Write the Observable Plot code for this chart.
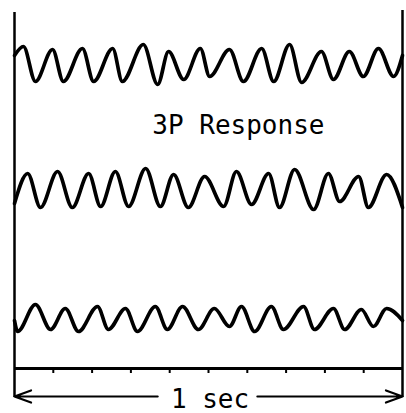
<!DOCTYPE html>
<html>
<head>
<meta charset="utf-8">
<script src="https://cdn.jsdelivr.net/npm/d3@7"></script>
<script src="https://cdn.jsdelivr.net/npm/@observablehq/plot@0.6"></script>
<style>
  html, body { margin: 0; padding: 0; background: #fff; }
  #chart svg { display: block; }
</style>
</head>
<body>
<div id="chart"></div>
<script>
// Time (s) and trace level (arbitrary chart units)
const timeTop  = [0, 0.023, 0.054, 0.098, 0.126, 0.175, 0.204, 0.253, 0.278, 0.332, 0.369, 0.397, 0.436, 0.479, 0.503, 0.554, 0.590, 0.637, 0.668, 0.709, 0.740, 0.791, 0.822, 0.863, 0.899, 0.938, 0.977, 1];
const levelTop = [358, 367, 332, 364, 332, 365, 332, 365, 332, 369, 329, 362, 334, 365, 337, 364, 332, 365, 332, 369, 331, 362, 334, 362, 337, 365, 337, 358];

const timeMid  = [0, 0.034, 0.067, 0.111, 0.149, 0.191, 0.222, 0.260, 0.294, 0.338, 0.376, 0.410, 0.448, 0.490, 0.539, 0.572, 0.611, 0.655, 0.683, 0.722, 0.771, 0.809, 0.838, 0.887, 0.912, 0.959, 1];
const levelMid = [210, 240, 206, 242, 206, 240, 207, 242, 207, 245, 207, 239, 206, 237, 207, 242, 209, 240, 206, 244, 204, 240, 212, 237, 206, 239, 206];

const timeBot  = [0, 0.008, 0.054, 0.093, 0.131, 0.165, 0.214, 0.242, 0.286, 0.317, 0.363, 0.394, 0.433, 0.474, 0.515, 0.554, 0.585, 0.619, 0.662, 0.693, 0.745, 0.773, 0.822, 0.851, 0.894, 0.925, 0.959, 1];
const levelBot = [93, 82, 109, 84, 105, 82, 107, 84, 105, 82, 107, 84, 107, 84, 105, 87, 107, 82, 107, 84, 107, 84, 105, 84, 104, 87, 105, 93];

const tickTimes = [0.1, 0.2, 0.3, 0.4, 0.5, 0.6, 0.7, 0.8, 0.9];
const frameTimes = [0, 1];
const frameTops = [401, 403];
const label = "3P Response";
const scaleLabel = "1 sec";

const traces = [
  {t: timeTop, v: levelTop},
  {t: timeMid, v: levelMid},
  {t: timeBot, v: levelBot}
].map((tr, k) => tr.t.map((t, i) => ({trace: k, t, v: tr.v[i]})));

const frame = frameTimes.map((t, i) => ({t, top: frameTops[i]}));
const baseLevel = 45, tickEnd = 40, arrowLevel = 17, frameBottom = 16;
const arrows = [
  {x1: 0.369, x2: 0, y: arrowLevel},
  {x1: 0.626, x2: 1, y: arrowLevel}
];

const chart = Plot.plot({
  width: 406,
  height: 413,
  marginLeft: 14,
  marginRight: 4,
  marginTop: 0,
  marginBottom: 0,
  x: {domain: [0, 1], axis: null},
  y: {domain: [0, 413], axis: null},
  style: {background: "#fff", fontFamily: "DejaVu Sans Mono"},
  marks: [
    Plot.ruleX(frame, {x: "t", y1: frameBottom, y2: "top", stroke: "#000", strokeWidth: 2.5}),
    Plot.ruleY([baseLevel], {x1: 0, x2: 1, stroke: "#000", strokeWidth: 3}),
    Plot.ruleX(tickTimes, {y1: baseLevel, y2: tickEnd, stroke: "#000", strokeWidth: 2}),
    ...traces.map(d => Plot.line(d, {x: "t", y: "v", curve: "monotone-x", stroke: "#000", strokeWidth: 3.7})),
    Plot.arrow(arrows, {x1: "x1", x2: "x2", y1: "y", y2: "y", stroke: "#000", strokeWidth: 2.2, headLength: 12, headAngle: 40}),
    Plot.text([label], {x: 0.577, y: 288, text: d => d, fontSize: 26, fill: "#000", lineAnchor: "middle"}),
    Plot.text([scaleLabel], {x: 0.504, y: 14, text: d => d, fontSize: 26, fill: "#000", lineAnchor: "middle"})
  ]
});
document.getElementById("chart").append(chart);
</script>
</body>
</html>
